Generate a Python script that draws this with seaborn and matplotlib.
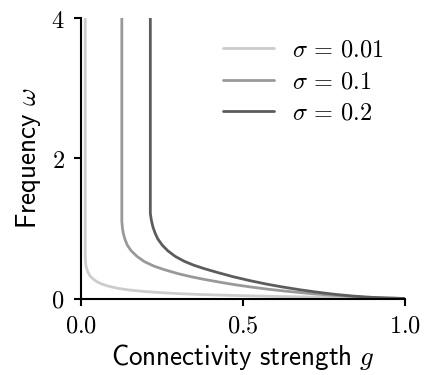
import pandas as pd
import matplotlib
matplotlib.use("Agg")
import matplotlib.pyplot as plt
import seaborn as sns
from matplotlib.ticker import FuncFormatter

# values (first point is the vertical branch, clipped at the top)
g_001 = [0.012, 0.012, 0.013, 0.015, 0.020, 0.027, 0.036, 0.048, 0.061, 0.080, 0.113, 0.150, 0.195,
         0.250, 0.298, 0.360, 0.421, 0.50, 0.60, 0.70, 0.80, 0.90, 1.0]
w_001 = [4.5, 0.62, 0.52, 0.45, 0.38, 0.32, 0.28, 0.24, 0.21, 0.18, 0.145, 0.12, 0.10,
         0.082, 0.07, 0.058, 0.05, 0.04, 0.03, 0.022, 0.014, 0.007, 0.0]

g_01 = [0.125, 0.125, 0.127, 0.130, 0.135, 0.142, 0.154, 0.172, 0.195, 0.225, 0.257, 0.298, 0.339,
        0.38, 0.421, 0.469, 0.52, 0.572, 0.62, 0.674, 0.725, 0.777, 0.83, 0.88, 0.94, 1.0]
w_01 = [4.5, 1.10, 1.0, 0.92, 0.84, 0.76, 0.68, 0.60, 0.525, 0.46, 0.41, 0.355, 0.31,
        0.272, 0.238, 0.20, 0.166, 0.135, 0.11, 0.085, 0.064, 0.046, 0.031, 0.019, 0.008, 0.0]

g_02 = [0.213, 0.213, 0.216, 0.221, 0.228, 0.236, 0.250, 0.267, 0.290, 0.318, 0.347, 0.38, 0.421,
        0.469, 0.52, 0.572, 0.62, 0.674, 0.725, 0.777, 0.83, 0.88, 0.94, 1.0]
w_02 = [4.5, 1.215, 1.12, 1.02, 0.93, 0.85, 0.76, 0.68, 0.60, 0.53, 0.475, 0.425, 0.37,
        0.31, 0.255, 0.205, 0.165, 0.125, 0.092, 0.062, 0.038, 0.02, 0.007, 0.0]

labels = [r"$\sigma \,=\, 0.01$", r"$\sigma \,=\, 0.1$", r"$\sigma \,=\, 0.2$"]
colors = ["#cccccc", "#999999", "#5c5c5c"]

df = pd.concat([
    pd.DataFrame({"g": g_001, "omega": w_001, "sigma": labels[0]}),
    pd.DataFrame({"g": g_01, "omega": w_01, "sigma": labels[1]}),
    pd.DataFrame({"g": g_02, "omega": w_02, "sigma": labels[2]}),
])

sns.set_style("ticks")
plt.rcParams["font.family"] = ["DejaVu Sans"]
plt.rcParams["mathtext.fontset"] = "cm"
plt.rcParams["text.color"] = "black"
plt.rcParams["axes.labelcolor"] = "black"
plt.rcParams["xtick.color"] = "black"
plt.rcParams["ytick.color"] = "black"

fs = 17.5
fs_label = 19.5

fig = plt.figure(figsize=(4.28, 3.75), dpi=100)
ax = fig.add_axes([0.19, 0.204, 0.757, 0.748])

sns.lineplot(data=df, x="g", y="omega", hue="sigma", palette=colors, sort=False,
             estimator=None, linewidth=2, ax=ax)

ax.set_xlim(0, 1)
ax.set_ylim(0, 4)
ax.set_xticks([0, 0.5, 1.0])
ax.set_yticks([0, 2, 4])
ax.xaxis.set_major_formatter(FuncFormatter(lambda v, p: f"${v:.1f}$"))
ax.yaxis.set_major_formatter(FuncFormatter(lambda v, p: f"${v:.0f}$"))
ax.tick_params(labelsize=fs, width=1.5, length=5)
ax.tick_params(axis="x", pad=6)
ax.tick_params(axis="y", pad=7)
for s in ["left", "bottom"]:
    ax.spines[s].set_linewidth(1.5)
    ax.spines[s].set_color("black")
sns.despine(ax=ax)

ax.set_xlabel(r"$\mathsf{Connectivity\ strength}\ g$", fontsize=fs_label, labelpad=3)
ax.set_ylabel(r"$\mathsf{Frequency}\ \omega$", fontsize=fs_label, labelpad=6)

ax.legend(title=None, frameon=False, fontsize=fs, loc="upper left",
          bbox_to_anchor=(0.37, 1.008), handlelength=2.1, handletextpad=0.75,
          labelspacing=0.31)

fig.savefig("out.png", dpi=100)
